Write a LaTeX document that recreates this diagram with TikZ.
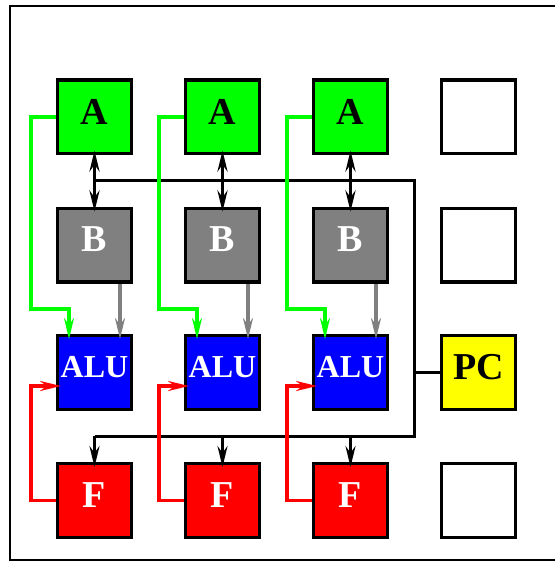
\documentclass[tikz,border=0pt]{standalone}
\usepackage{fontspec}
\setmainfont{Liberation Serif}
\usetikzlibrary{arrows.meta,positioning}
\definecolor{cellgreen}{HTML}{00FF00}
\definecolor{cellgray}{HTML}{808080}
\definecolor{cellblue}{HTML}{0000FF}
\definecolor{cellred}{HTML}{FF0000}
\definecolor{cellyellow}{HTML}{FFFF00}
\begin{document}
\begin{tikzpicture}[line join=miter,
  tip/.style={-{Stealth[length=21pt,width=10pt,inset=7pt]}},
  twotip/.style={{Stealth[length=21pt,width=10pt,inset=7pt]}-{Stealth[length=21pt,width=10pt,inset=7pt]}},
  cell/.style={draw=black,line width=3.4pt,minimum size=73.6pt,inner sep=0pt,
    text depth=11pt,font=\fontsize{38}{38}\selectfont\bfseries},
  alufont/.style={font=\fontsize{32}{32}\selectfont\bfseries},
  bus/.style={line width=3pt},
  feed/.style={line width=3.2pt,shorten >=-5pt},
  frame/.style={line width=2.4pt}]
\begin{scope}[x=1pt,y=-1pt]
  \path[use as bounding box] (0,0) rectangle (555,561);
  \fill[white] (0,0) rectangle (555,561);
  \draw[frame] (555,6) -| (10,560) -- (555,560);
  % 三列运算单元
  \foreach \i/\x in {1/94.5,2/222.5,3/350.5}{
    \node[cell,fill=cellgreen] (a\i) at (\x,117) {A};
    \node[cell,fill=cellgray,text=white] (b\i) at (\x,245) {B};
    \node[cell,fill=cellblue,text=white,alufont] (alu\i) at (\x,372.5) {ALU};
    \node[cell,fill=cellred,text=white] (f\i) at (\x,500.5) {F};
  }
  % 右列：空单元与 PC
  \node[cell,fill=white] (e1) at (478.5,117) {};
  \node[cell,fill=white] (e2) at (478.5,245) {};
  \node[cell,fill=cellyellow] (pc) at (478.5,372.5) {PC};
  \node[cell,fill=white] (e4) at (478.5,500.5) {};
  % 总线
  \coordinate (bustop) at (414,181);
  \coordinate (busbot) at (414,436);
  \draw[bus] (a1 |- bustop) -- (bustop) -- (busbot) -- (f1 |- busbot);
  \draw[bus] (pc.west) -- (pc.west -| busbot);
  % 每列的连线
  \foreach \i in {1,2,3}{
    \draw[twotip,line width=3.4pt,shorten >=-5pt,shorten <=-5pt] (a\i) -- (b\i);
    \draw[bus,tip,shorten >=-5pt] (f\i |- busbot) -- (f\i.north);
    \draw[feed,cellgreen,tip] (a\i.west) -- ++(-25,0)
      |- ([xshift=-25.5pt,yshift=25pt]alu\i.north) -- ([xshift=-25.5pt]alu\i.north);
    \draw[feed,cellgray,tip] ([xshift=25.5pt]b\i.south) -- ([xshift=25.5pt]alu\i.north);
    \draw[feed,cellred,tip] (f\i.west) -- ++(-25,0) |- ([yshift=-13.5pt]alu\i.west);
  }
\end{scope}
\end{tikzpicture}
\end{document}
